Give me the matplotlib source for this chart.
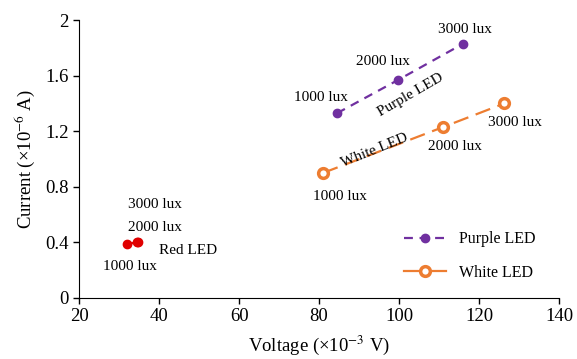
import matplotlib.pyplot as plt
from matplotlib.lines import Line2D

plt.rcParams['font.family'] = ['Liberation Serif', 'DejaVu Serif']
plt.rcParams['mathtext.fontset'] = 'stix'

# data (voltage in mV, current in uA)
lux_labels = ['1000 lux', '2000 lux', '3000 lux']
purple_v = [84.5, 99.8, 116.0]
purple_i = [1.33, 1.57, 1.83]
white_v = [81.0, 111.0, 126.3]
white_i = [0.90, 1.23, 1.40]
red_v = [32.0, 34.5, 34.8]
red_i = [0.385, 0.403, 0.405]

purple = '#7030A0'
orange = '#ED7D31'
red = '#E00000'

fig = plt.figure(figsize=(5.77, 3.59), dpi=100)
ax = fig.add_axes([0.137, 0.170, 0.832, 0.774])

ax.plot(purple_v, purple_i, color=purple, linestyle=(0, (4, 3)), lw=1.6,
        marker='o', ms=6, zorder=3)
ax.plot(white_v, white_i, color=orange, linestyle=(0, (7, 3.5)), lw=1.6,
        marker='o', ms=7, mfc='white', mec=orange, mew=2.5, zorder=3)
ax.plot(red_v, red_i, color=red, lw=1.6, marker='o', ms=6, zorder=3)

fs = 11
# purple labels
ax.text(80.5, 1.44, lux_labels[0], ha='center', va='center', fontsize=fs)
ax.text(96.0, 1.70, lux_labels[1], ha='center', va='center', fontsize=fs)
ax.text(116.5, 1.93, lux_labels[2], ha='center', va='center', fontsize=fs)
ax.text(102.8, 1.46, 'Purple LED', ha='center', va='center', fontsize=fs, rotation=30)
# white labels
ax.text(85.3, 0.73, lux_labels[0], ha='center', va='center', fontsize=fs)
ax.text(114.0, 1.09, lux_labels[1], ha='center', va='center', fontsize=fs)
ax.text(129.0, 1.26, lux_labels[2], ha='center', va='center', fontsize=fs)
ax.text(93.8, 1.065, 'White LED', ha='center', va='center', fontsize=fs, rotation=22)
# red labels
ax.text(32.8, 0.23, lux_labels[0], ha='center', va='center', fontsize=fs)
ax.text(39.0, 0.505, lux_labels[1], ha='center', va='center', fontsize=fs)
ax.text(39.0, 0.67, lux_labels[2], ha='center', va='center', fontsize=fs)
ax.text(47.3, 0.345, 'Red LED', ha='center', va='center', fontsize=fs)

ax.set_xlim(20, 140)
ax.set_ylim(0, 2)
ax.set_xticks(range(20, 141, 20))
ax.set_yticks([0, 0.4, 0.8, 1.2, 1.6, 2])
ax.set_yticklabels(['0', '0.4', '0.8', '1.2', '1.6', '2'])
ax.tick_params(labelsize=13.5, direction='out', length=4, width=1)
ax.spines['top'].set_visible(False)
ax.spines['right'].set_visible(False)
ax.set_xlabel(r'Voltage (×10$^{-3}$ V)', fontsize=13.5, labelpad=6)
ax.set_ylabel(r'Current (×10$^{-6}$ A)', fontsize=13.5, labelpad=6)

handles = [
    Line2D([], [], color=purple, linestyle=(0, (4, 3)), lw=1.6, marker='o', ms=6),
    Line2D([], [], color=orange, lw=1.6, marker='o', ms=7, mfc='white', mec=orange, mew=2.5),
]
ax.legend(handles, ['Purple LED', 'White LED'], loc='lower right',
          bbox_to_anchor=(0.98, 0.01), frameon=False, fontsize=11.5,
          handlelength=2.6, labelspacing=1.1)

fig.savefig('out.png', dpi=100)
